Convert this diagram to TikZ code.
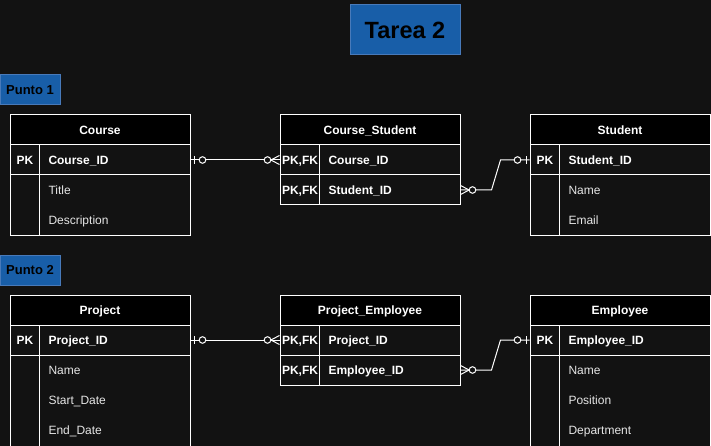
\documentclass[tikz,border=0pt]{standalone}
\usepackage{fontspec}
\setmainfont{Liberation Sans}
\usetikzlibrary{positioning,calc}

\definecolor{canvas}{RGB}{18,18,18}
\definecolor{tagblue}{RGB}{24,94,168}
\definecolor{tagedge}{RGB}{72,122,186}
\definecolor{fieldgray}{RGB}{230,230,230}

\begin{document}
\begin{tikzpicture}[
    x=1pt, y=-1pt,
    line width=1pt,
    tbl/.style={
        draw=white,
        fill=canvas,
        minimum width=180pt,
        inner sep=0pt
    },
    hdr/.style={
        draw=white,
        fill=black,
        minimum width=180pt,
        minimum height=30pt,
        inner sep=0pt,
        text=white,
        text height=8.6pt,
        text depth=0pt,
        font=\fontsize{12}{14}\selectfont\bfseries
    },
    keyrow/.style={
        draw=white,
        minimum width=180pt,
        minimum height=30pt,
        inner sep=0pt
    },
    plainrow/.style={
        minimum width=180pt,
        minimum height=30pt,
        inner sep=0pt
    },
    keytext/.style={
        inner sep=0pt,
        text=white,
        text height=8.6pt,
        text depth=0pt,
        font=\fontsize{12}{14}\selectfont\bfseries
    },
    fieldkey/.style={
        anchor=west,
        inner sep=0pt,
        text=white,
        text height=8.6pt,
        text depth=0pt,
        font=\fontsize{12}{14}\selectfont\bfseries
    },
    field/.style={
        anchor=west,
        inner sep=0pt,
        text=fieldgray,
        text height=8.6pt,
        text depth=0pt,
        font=\fontsize{12}{14}\selectfont
    },
    tag/.style={
        draw=tagedge,
        fill=tagblue,
        inner sep=0pt,
        text=black,
        font=\fontsize{13}{15}\selectfont\bfseries
    },
    rel/.style={
        draw=white,
        line width=1pt
    },
    zeroone/.pic={
        \draw[white] (3.5,-4) -- (3.5,4);
        \draw[white, fill=canvas] (12,0) circle (3.3pt);
    },
    zeromany/.pic={
        \draw[white] (0,-4.5) -- (8.7,0) (0,4.5) -- (8.7,0);
        \draw[white, fill=canvas] (12,0) circle (3.3pt);
    }
]

% Canvas
\fill[canvas] (0,0) rectangle (711,446);
\useasboundingbox (0,0) rectangle (711,446);

% Title and section tags
\node[tag, minimum width=110pt, minimum height=50pt, font=\fontsize{23.5}{28}\selectfont\bfseries] (title) at (405,30) {Tarea 2};
\node[tag, minimum width=60pt, minimum height=30pt] (punto1) at (30,90) {Punto 1};
\node[tag, minimum width=60pt, minimum height=30pt] (punto2) at (30,270) {Punto 2};

% Punto 1: Course
\node[tbl, minimum height=120pt] (course) at (100,175) {};
\node[hdr] (course-h) at (100,130) {Course};
\node[keyrow] (course-pk) at (100,160) {};
\node[plainrow] (course-title) at (100,190) {};
\node[plainrow] (course-desc) at (100,220) {};
\draw[white] ([xshift=30pt]course-h.south west) -- ([xshift=30pt]course.south west);
\node[keytext] (course-pk-k) at (25,160) {PK};
\node[fieldkey] (course-pk-f) at (48,160) {Course\_ID};
\node[field] (course-title-f) at (48,190) {Title};
\node[field] (course-desc-f) at (48,220) {Description};

% Punto 1: Course_Student
\node[tbl, minimum height=90pt] (cs) at (370,160) {};
\node[hdr] (cs-h) at (370,130) {Course\_Student};
\node[keyrow] (cs-course) at (370,160) {};
\node[keyrow] (cs-student) at (370,190) {};
\draw[white] ([xshift=40pt]cs-h.south west) -- ([xshift=40pt]cs.south west);
\node[keytext] (cs-course-k) at (300,160) {PK,FK};
\node[fieldkey] (cs-course-f) at (328,160) {Course\_ID};
\node[keytext] (cs-student-k) at (300,190) {PK,FK};
\node[fieldkey] (cs-student-f) at (328,190) {Student\_ID};

% Punto 1: Student
\node[tbl, minimum height=120pt] (stu) at (620,175) {};
\node[hdr] (stu-h) at (620,130) {Student};
\node[keyrow] (stu-pk) at (620,160) {};
\node[plainrow] (stu-name) at (620,190) {};
\node[plainrow] (stu-email) at (620,220) {};
\draw[white] ([xshift=30pt]stu-h.south west) -- ([xshift=30pt]stu.south west);
\node[keytext] (stu-pk-k) at (545,160) {PK};
\node[fieldkey] (stu-pk-f) at (568,160) {Student\_ID};
\node[field] (stu-name-f) at (568,190) {Name};
\node[field] (stu-email-f) at (568,220) {Email};

% Punto 2: Project
\node[tbl, minimum height=152pt] (proj) at (100,371) {};
\node[hdr] (proj-h) at (100,310) {Project};
\node[keyrow] (proj-pk) at (100,340) {};
\node[plainrow] (proj-name) at (100,370) {};
\node[plainrow] (proj-start) at (100,400) {};
\node[plainrow] (proj-end) at (100,430) {};
\draw[white] ([xshift=30pt]proj-h.south west) -- ([xshift=30pt]proj.south west);
\node[keytext] (proj-pk-k) at (25,340) {PK};
\node[fieldkey] (proj-pk-f) at (48,340) {Project\_ID};
\node[field] (proj-name-f) at (48,370) {Name};
\node[field] (proj-start-f) at (48,400) {Start\_Date};
\node[field] (proj-end-f) at (48,430) {End\_Date};

% Punto 2: Project_Employee
\node[tbl, minimum height=90pt] (pe) at (370,340) {};
\node[hdr] (pe-h) at (370,310) {Project\_Employee};
\node[keyrow] (pe-project) at (370,340) {};
\node[keyrow] (pe-employee) at (370,370) {};
\draw[white] ([xshift=40pt]pe-h.south west) -- ([xshift=40pt]pe.south west);
\node[keytext] (pe-project-k) at (300,340) {PK,FK};
\node[fieldkey] (pe-project-f) at (328,340) {Project\_ID};
\node[keytext] (pe-employee-k) at (300,370) {PK,FK};
\node[fieldkey] (pe-employee-f) at (328,370) {Employee\_ID};

% Punto 2: Employee
\node[tbl, minimum height=152pt] (emp) at (620,371) {};
\node[hdr] (emp-h) at (620,310) {Employee};
\node[keyrow] (emp-pk) at (620,340) {};
\node[plainrow] (emp-name) at (620,370) {};
\node[plainrow] (emp-pos) at (620,400) {};
\node[plainrow] (emp-dept) at (620,430) {};
\draw[white] ([xshift=30pt]emp-h.south west) -- ([xshift=30pt]emp.south west);
\node[keytext] (emp-pk-k) at (545,340) {PK};
\node[fieldkey] (emp-pk-f) at (568,340) {Employee\_ID};
\node[field] (emp-name-f) at (568,370) {Name};
\node[field] (emp-pos-f) at (568,400) {Position};
\node[field] (emp-dept-f) at (568,430) {Department};

% Relationships
\draw[rel] (course-pk.east) -- (cs-course.west);
\pic at (course-pk.east) {zeroone};
\pic[rotate=180] at (cs-course.west) {zeromany};

\draw[rel] (cs-student.east) -- ++(31,0) -- ([xshift=-29pt]stu-pk.west) -- (stu-pk.west);
\pic at (cs-student.east) {zeromany};
\pic[rotate=180] at (stu-pk.west) {zeroone};

\draw[rel] (proj-pk.east) -- (pe-project.west);
\pic at (proj-pk.east) {zeroone};
\pic[rotate=180] at (pe-project.west) {zeromany};

\draw[rel] (pe-employee.east) -- ++(31,0) -- ([xshift=-29pt]emp-pk.west) -- (emp-pk.west);
\pic at (pe-employee.east) {zeromany};
\pic[rotate=180] at (emp-pk.west) {zeroone};

\end{tikzpicture}
\end{document}
